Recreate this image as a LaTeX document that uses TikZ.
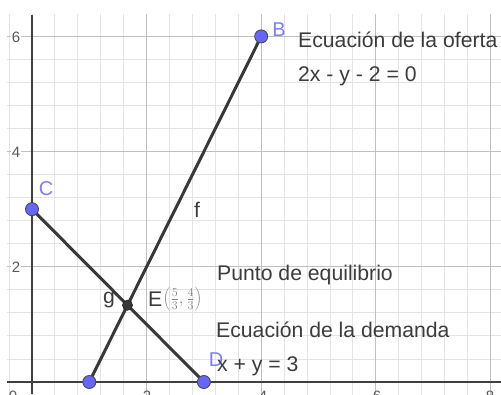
\documentclass[tikz,border=0pt]{standalone}
\usepackage{fontspec}
\setmainfont{Liberation Sans}
\definecolor{ptblue}{RGB}{102,102,255}
\definecolor{ptlab}{RGB}{125,125,255}
\definecolor{gminor}{RGB}{228,228,228}
\definecolor{gmajor}{RGB}{192,192,192}
\definecolor{axcol}{RGB}{64,64,64}
\definecolor{txtcol}{RGB}{60,60,60}
\begin{document}
\begin{tikzpicture}[x=57.3pt,y=57.6pt,
  txt/.style={font=\fontsize{21.2}{24}\selectfont, text=txtcol, inner sep=0pt},
  ptlabel/.style={font=\fontsize{20}{24}\selectfont, text=ptlab, inner sep=0pt},
  ticklab/.style={font=\fontsize{15}{18}\selectfont, text=black!65, inner sep=0.6pt, fill=white},
  freept/.style={circle, fill=ptblue, draw=black!70, line width=0.9pt, minimum size=13pt, inner sep=0pt},
  isect/.style={circle, fill=black!78, draw=black!85, line width=0.8pt, minimum size=10pt, inner sep=0pt},
  seg/.style={draw=black!78, line width=3pt},
  minorline/.style={draw=gminor, line width=0.9pt},
  majorline/.style={draw=gmajor, line width=1.2pt},
  axisline/.style={draw=axcol, line width=1.8pt},
]
\useasboundingbox (-32pt,-12pt) rectangle (469pt,382pt);
\fill[white] (-32pt,-12pt) rectangle (469pt,382pt);
% grid
\begin{scope}
  \clip (-25pt,-12pt) rectangle (469pt,367pt);
  \foreach \i in {-1,...,21} \draw[minorline] ({0.4*\i},-1) -- ({0.4*\i},7);
  \foreach \j in {-1,...,17} \draw[minorline] (-1,{0.4*\j}) -- (9,{0.4*\j});
  \foreach \i in {2,4,6,8} \draw[majorline] (\i,-1) -- (\i,7);
  \foreach \j in {2,4,6} \draw[majorline] (-1,\j) -- (9,\j);
\end{scope}
% axes
\coordinate (xl) at (-25pt,0);
\coordinate (xr) at (469pt,0);
\coordinate (yb) at (0,-12pt);
\coordinate (yt) at (0,367pt);
\draw[axisline] (xl) -- (xr);
\draw[axisline] (yb) -- (yt);
% tick labels
\node[ticklab] (t6) at (-16pt,345pt) {6};
\node[ticklab] (t4) at (-16pt,230pt) {4};
\node[ticklab] (t2) at (-16pt,115pt) {2};
\node[ticklab, anchor=base, fill=none] (b0) at (-19pt,-19pt) {0};
\node[ticklab, anchor=base, fill=none] (b2) at (115pt,-19pt) {2};
\node[ticklab, anchor=base, fill=none] (b4) at (231pt,-19pt) {4};
\node[ticklab, anchor=base, fill=none] (b6) at (345pt,-19pt) {6};
\node[ticklab, anchor=base, fill=none] (b8) at (458pt,-19pt) {8};
% points
\coordinate (A) at (1,0);
\coordinate (B) at (4,6);
\coordinate (C) at (0,3);
\coordinate (D) at (3,0);
\coordinate (E) at ({5/3},{4/3});
\draw[seg] (A) -- (B);
\draw[seg] (C) -- (D);
\node[freept] (pA) at (A) {};
\node[freept] (pB) at (B) {};
\node[freept] (pC) at (C) {};
\node[freept] (pD) at (D) {};
\node[isect] (pE) at (E) {};
% point labels
\node[ptlabel] (lB) at (247pt,352pt) {B};
\node[ptlabel] (lC) at (14pt,193pt) {C};
\node[ptlabel] (lD) at (184pt,22pt) {D};
\node[txt] (lf) at (165pt,172pt) {f};
\node[txt, anchor=base west] (lg) at (71pt,78pt) {g};
\node[txt, anchor=base west] (lE) at (116pt,75pt) {E};
\node[inner sep=0pt, anchor=west, text=black!50, font=\fontsize{18}{20}\selectfont] (coordE) at (131pt,83pt) {$\left(\frac{5}{3},\frac{4}{3}\right)$};
% texts
\node[txt, anchor=base west] (of1) at (266pt,334pt) {Ecuación de la oferta};
\node[txt, anchor=base west] (of2) at (266pt,300pt) {2x - y - 2 = 0};
\node[txt, anchor=base west] (eq) at (185pt,102pt) {Punto de equilibrio};
\node[txt, anchor=base west] (de1) at (184pt,45pt) {Ecuación de la demanda};
\node[txt, anchor=base west] (de2) at (185pt,11pt) {x + y = 3};
\end{tikzpicture}
\end{document}
